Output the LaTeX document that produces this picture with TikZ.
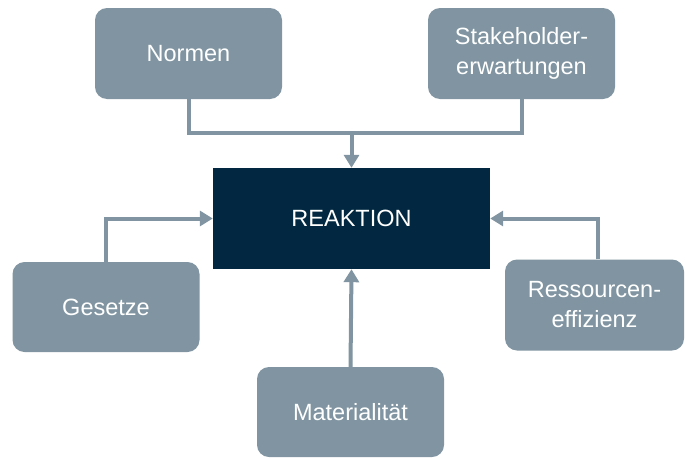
\documentclass[tikz,border=0pt]{standalone}
\usepackage{fontspec}
\setmainfont{Liberation Sans}
\usetikzlibrary{arrows.meta}

\definecolor{boxgrey}{RGB}{128,149,161}
\definecolor{navy}{RGB}{1,40,64}

\begin{document}
\begin{tikzpicture}[x=1pt,y=-1pt,
  factor/.style={draw=none,fill=boxgrey,rounded corners=12pt,text=white,
    minimum width=187pt,minimum height=91pt,align=center,inner sep=0pt,
    font=\fontsize{23.5}{30}\selectfont},
  core/.style={fill=navy,text=white,minimum width=277pt,minimum height=101pt,
    inner sep=0pt,font=\fontsize{23.5}{30}\selectfont},
  link/.style={draw=boxgrey,line width=4pt},
  flow/.style={link,-{Triangle[width=15pt,length=13pt]}}]
\useasboundingbox[fill=white] (0,0) rectangle (685,458);

\node[core] (reaktion) at (351.5,218.5) {REAKTION};
\node[factor] (normen) at (188.5,53.5) {Normen};
\node[factor] (stake) at (521.5,53.5) {Stakeholder-\\erwartungen};
\node[factor,minimum height=90pt] (gesetze) at (106,307) {Gesetze};
\node[factor,minimum width=179pt] (ress) at (594.5,305) {Ressourcen-\\effizienz};
\node[factor,minimum height=90pt] (mat) at (350.5,412) {Materialität};

% top bracket
\coordinate (join) at (351.5,133);
\draw[link] (normen.south) |- (join) -| (stake.south);
\draw[flow] (join) -- (reaktion.north);

\draw[flow] (gesetze.north) |- (reaktion.west);
\draw[flow] ([xshift=3.5pt]ress.north) |- (reaktion.east);
\draw[flow] (mat.north) -- (reaktion.south);
\end{tikzpicture}
\end{document}
